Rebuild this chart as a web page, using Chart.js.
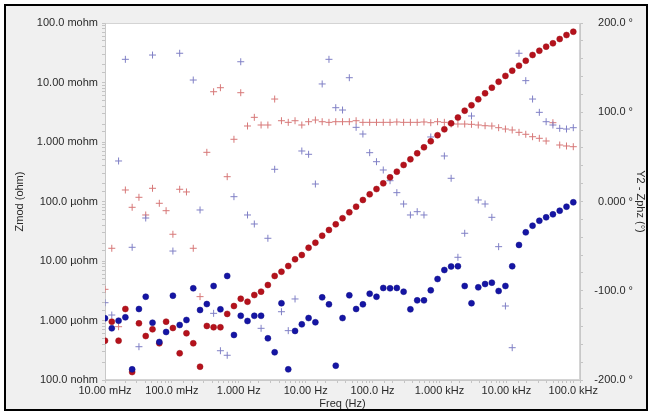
<!DOCTYPE html>
<html>
<head>
<meta charset="utf-8">
<script src="https://cdn.jsdelivr.net/npm/chart.js@4.4.1/dist/chart.umd.min.js"></script>
<style>
  html, body { margin: 0; padding: 0; background: #fff; }
  #wrap { width: 652px; height: 415px; }
</style>
</head>
<body>
<div id="wrap"><canvas id="eisChart" width="652" height="415"></canvas></div>
<script>
// sweep frequencies (Hz)
const freqs = [
  0.01, 0.01263, 0.01596, 0.02016, 0.02546, 0.03217, 0.04063, 0.05133, 0.06485, 0.08192,
  0.1035, 0.1307, 0.1651, 0.2086, 0.2634, 0.3328, 0.4204, 0.5311, 0.6710, 0.8464,
  1.069, 1.350, 1.706, 2.154, 2.722, 3.438, 4.343, 5.486, 6.930, 8.750,
  11.05, 13.96, 17.64, 22.28, 28.14, 35.54, 44.90, 56.71, 71.63, 90.48,
  114.3, 144.4, 182.3, 230.3, 290.9, 367.5, 464.2, 586.4, 740.7, 935.6,
  1182, 1493, 1885, 2382, 3008, 3800, 4800, 6063, 7659, 9672,
  12220, 15430, 19490, 24620, 31090, 39280, 49610, 62670, 79160, 100000
];

// Zmod (ohm) - red dots
const zmodRed = [
  4.58e-7, 9.55e-7, 4.58e-7, 1.56e-6, 1.36e-7, 8.97e-7, 5.48e-7, 7.11e-7, 4.14e-7, 9.55e-7,
  7.48e-7, 2.81e-7, 6.10e-7, 4.14e-7, 1.67e-7, 8.09e-7, 7.69e-7, 7.69e-7, 1.29e-6, 1.75e-6,
  2.32e-6, 2.07e-6, 2.68e-6, 3.05e-6, 3.95e-6, 5.60e-6, 6.61e-6, 8.24e-6, 1.07e-5, 1.26e-5,
  1.67e-5, 2.03e-5, 2.66e-5, 3.32e-5, 4.14e-5, 5.23e-5, 6.58e-5, 8.18e-5, 1.06e-4, 1.32e-4,
  1.62e-4, 2.02e-4, 2.55e-4, 3.17e-4, 4.11e-4, 5.12e-4, 6.46e-4, 8.15e-4, 1.03e-3, 1.30e-3,
  1.63e-3, 2.06e-3, 2.58e-3, 3.36e-3, 4.14e-3, 5.22e-3, 6.58e-3, 8.18e-3, 1.03e-2, 1.29e-2,
  1.58e-2, 1.92e-2, 2.32e-2, 2.90e-2, 3.42e-2, 4.00e-2, 4.56e-2, 5.38e-2, 6.28e-2, 7.14e-2
];

// Zmod (ohm) - blue dots
const zmodBlue = [
  1.09e-6, 7.40e-7, 9.93e-7, 1.13e-6, 1.51e-7, 1.56e-6, 2.51e-6, 9.18e-7, 4.35e-7, 6.41e-7,
  2.61e-6, 8.40e-7, 1.02e-6, 3.48e-6, 1.50e-6, 1.89e-6, 3.80e-6, 1.54e-6, 5.60e-6, 5.71e-7,
  1.20e-6, 9.81e-7, 1.20e-6, 1.20e-6, 5.02e-7, 2.92e-7, 1.95e-6, 1.51e-7, 6.67e-7, 8.63e-7,
  1.10e-6, 9.33e-7, 2.45e-6, 1.87e-6, 1.74e-7, 1.10e-6, 2.65e-6, 1.56e-6, 1.87e-6, 2.82e-6,
  2.51e-6, 3.52e-6, 3.48e-6, 3.52e-6, 3.05e-6, 1.54e-6, 2.18e-6, 2.18e-6, 3.22e-6, 4.98e-6,
  7.06e-6, 8.09e-6, 8.17e-6, 3.80e-6, 1.95e-6, 3.61e-6, 4.10e-6, 4.32e-6, 3.13e-6, 3.80e-6,
  8.17e-6, 1.86e-5, 3.03e-5, 3.92e-5, 4.75e-5, 5.42e-5, 6.09e-5, 7.00e-5, 8.18e-5, 9.70e-5
];

// Zphz (deg) - red crosses
const phaseRed = [
  -98.4, -52.4, -140.3, 12.9, -6.5, 4.7, -15.1, 14.8, -2.0, -10.3,
  -36.7, 13.7, 10.7, -52.4, -106.6, 55.1, 123.0, 127.5, 27.8, 69.7,
  121.9, 84.6, 94.3, 85.7, 85.7, 114.8, 90.5, 88.7, 90.5, 85.7,
  89.4, 91.3, 89.4, 88.7, 89.4, 89.4, 89.4, 90.5, 88.7, 88.7,
  88.7, 88.7, 88.7, 89.1, 88.7, 88.7, 88.7, 89.1, 88.3, 89.4,
  88.7, 86.8, 86.8, 86.8, 86.5, 85.7, 84.9, 84.6, 82.7, 81.2,
  80.1, 77.5, 75.3, 72.6, 70.8, 67.8, 88.3, 63.3, 62.2, 61.4
];

// Zphz (deg) - blue crosses (null = not visible)
const phaseBlue = [
  -113.4, -127.2, 45.4, 159.3, -51.3, -162.7, -18.5, 164.1, null, null,
  -55.5, 166.1, null, 136.1, -9.5, null, -125.3, -167.2, -172.3, 5.4,
  156.6, -15.1, -25.2, -142.1, -41.2, 36.1, -123.5, -144.7, -109.2, 56.6,
  52.9, 19.6, 131.7, 159.3, 105.1, 102.5, 138.7, 83.1, 75.6, 54.7,
  44.6, 35.3, 23.3, 9.9, -2.8, -15.1, -11.4, -15.1, 72.3, null,
  51.0, 26.0, -62.5, -35.6, 95.8, 1.7, -2.8, -17.7, -50.6, -117.1,
  -163.8, 166.1, 135.4, 114.8, 99.9, 89.4, 85.7, 82.0, 81.2, 82.7
];

// tick labels
const freqTickLabels = ["10.00 mHz", "100.0 mHz", "1.000 Hz", "10.00 Hz", "100.0 Hz", "1.000 kHz", "10.00 kHz", "100.0 kHz"];
const zmodTickLabels = ["100.0 nohm", "1.000 µohm", "10.00 µohm", "100.0 µohm", "1.000 mohm", "10.00 mohm", "100.0 mohm"];
const phaseTickLabels = ["-200.0 °", "-100.0 °", "0.000 °", "100.0 °", "200.0 °"];

const pairs = (ys) => freqs.map((f, i) => ({ x: f, y: ys[i] }));

// label only the decades of a log axis
function decadeLabel(v, labels, firstExp) {
  const e = Math.log10(v);
  const r = Math.round(e);
  if (Math.abs(e - r) > 1e-6) return "";
  return labels[r - firstExp] ?? "";
}

// gray panel, black frame, white plot area
const panel = {
  id: "panel",
  beforeDraw(chart) {
    const { ctx, chartArea: a } = chart;
    ctx.save();
    ctx.fillStyle = "#ffffff";
    ctx.fillRect(0, 0, chart.width, chart.height);
    ctx.fillStyle = "#f0f0f0";
    ctx.fillRect(5, 5, chart.width - 10, chart.height - 10);
    ctx.strokeStyle = "#000";
    ctx.lineWidth = 2;
    ctx.strokeRect(5, 5, chart.width - 10, chart.height - 10);
    ctx.fillStyle = "#ffffff";
    ctx.fillRect(a.left, a.top, a.right - a.left, a.bottom - a.top);
    ctx.strokeStyle = "#d4d4d4";
    ctx.lineWidth = 1;
    ctx.strokeRect(a.left + 0.5, a.top + 0.5, a.right - a.left - 1, a.bottom - a.top - 1);
    ctx.restore();
  },
};

Chart.defaults.font.family = "'Liberation Sans', Arial, sans-serif";
Chart.defaults.font.size = 11;
Chart.defaults.color = "#2a2a2a";

const tickGrid = { drawOnChartArea: false, tickLength: 3, color: "#c4c4c4" };

new Chart(document.getElementById("eisChart"), {
  type: "scatter",
  data: {
    datasets: [
      {
        label: "Zphz red",
        data: pairs(phaseRed),
        yAxisID: "y2",
        pointStyle: "cross",
        pointRadius: 3.5,
        borderColor: "#d77878",
        borderWidth: 1,
        order: 3,
      },
      {
        label: "Zphz blue",
        data: pairs(phaseBlue),
        yAxisID: "y2",
        pointStyle: "cross",
        pointRadius: 3.5,
        borderColor: "#8080c6",
        borderWidth: 1,
        order: 2,
      },
      {
        label: "Zmod red",
        data: pairs(zmodRed),
        yAxisID: "y",
        pointRadius: 3,
        backgroundColor: "#b5121c",
        borderColor: "#9c0e16",
        borderWidth: 0.5,
        order: 1,
      },
      {
        label: "Zmod blue",
        data: pairs(zmodBlue),
        yAxisID: "y",
        pointRadius: 3,
        backgroundColor: "#1515a4",
        borderColor: "#0e0e88",
        borderWidth: 0.5,
        order: 0,
      },
    ],
  },
  options: {
    responsive: false,
    animation: false,
    events: [],
    layout: { padding: { top: 23, left: 0, right: 19, bottom: 0 } },
    plugins: { legend: { display: false }, tooltip: { enabled: false } },
    scales: {
      x: {
        type: "logarithmic",
        position: "bottom",
        min: 0.01,
        max: 1.26e5,
        grid: tickGrid,
        border: { color: "#c8c8c8" },
        ticks: {
          autoSkip: false,
          maxRotation: 0,
          minRotation: 0,
          padding: 1,
          callback: (v) => decadeLabel(v, freqTickLabels, -2),
        },
        title: { display: true, text: "Freq (Hz)", padding: { top: 0, bottom: 4 } },
        afterFit: (s) => { s.height = 35; },
      },
      y: {
        type: "logarithmic",
        position: "left",
        min: 1e-7,
        max: 1e-1,
        grid: tickGrid,
        border: { color: "#c8c8c8" },
        ticks: {
          autoSkip: false,
          padding: 4,
          callback: (v) => decadeLabel(v, zmodTickLabels, -7),
        },
        title: { display: true, text: "Zmod (ohm)", padding: { top: 13, bottom: 0 } },
        afterFit: (s) => { s.width = 105; },
      },
      y2: {
        type: "linear",
        position: "right",
        min: -200,
        max: 200,
        grid: tickGrid,
        border: { color: "#c8c8c8" },
        ticks: {
          stepSize: 20,
          autoSkip: false,
          crossAlign: "far",
          padding: 4,
          callback: (v) => (v % 100 === 0 ? phaseTickLabels[(v + 200) / 100] : ""),
        },
        // axis box ends at x=633, title sits just outside it
        title: { display: true, text: "Y2 - Zphz (°)", padding: { top: -14, bottom: 0 } },
        afterFit: (s) => { s.width = 53; },
      },
    },
  },
  plugins: [panel],
});
</script>
</body>
</html>
